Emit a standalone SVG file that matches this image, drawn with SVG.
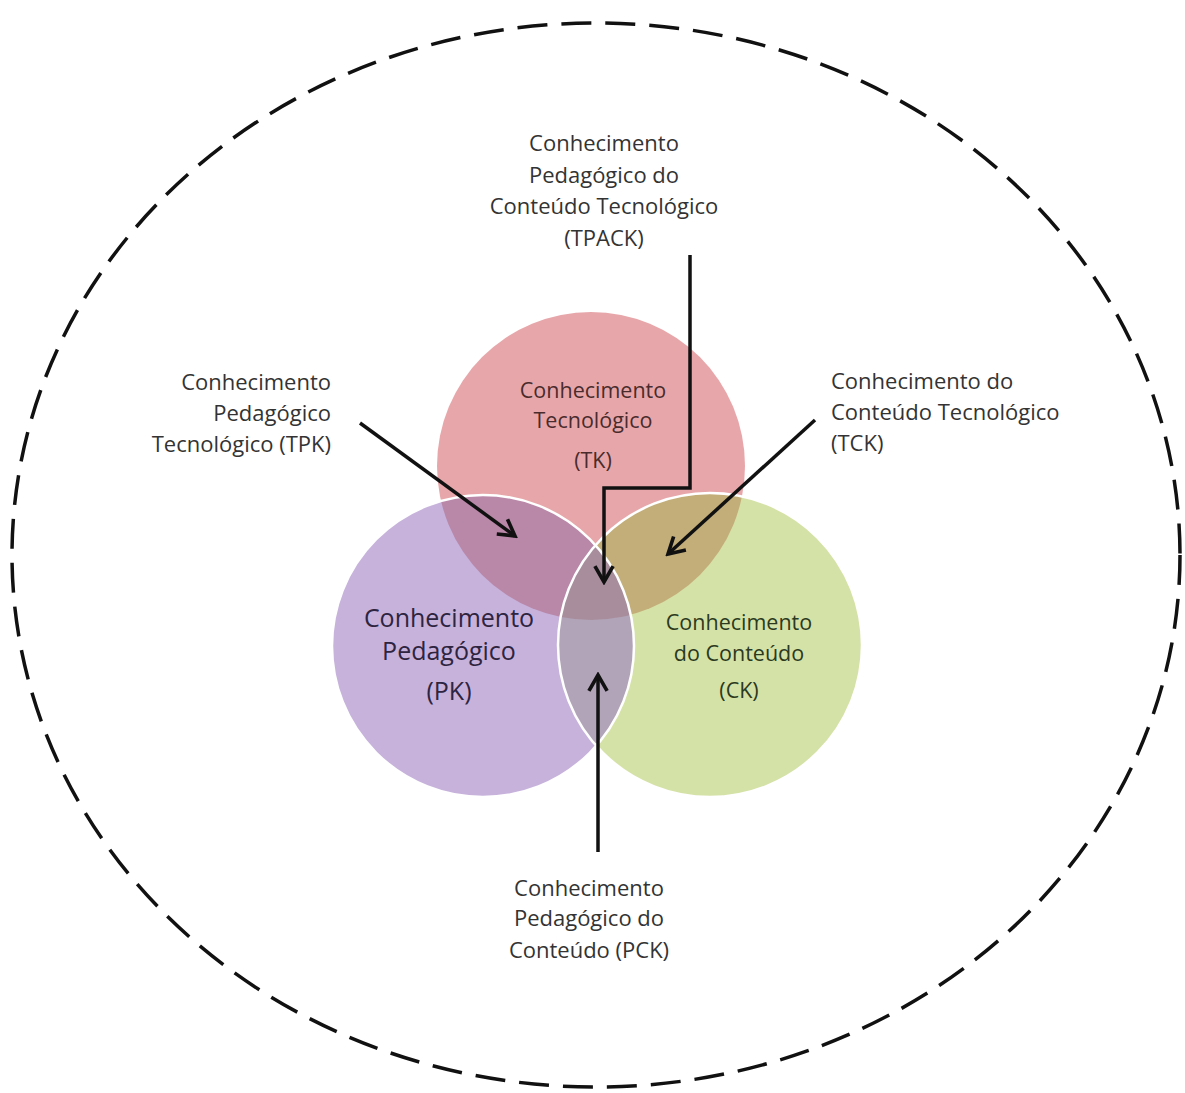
<svg xmlns="http://www.w3.org/2000/svg" width="1185" height="1093" viewBox="0 0 1185 1093">
<defs>
<style>
.lbl{font-family:"Open Sans","Liberation Sans",sans-serif;font-size:22px;fill:#333}
.big{font-family:"Open Sans","Liberation Sans",sans-serif;font-size:25px}
.mid{font-family:"Open Sans","Liberation Sans",sans-serif;font-size:21.5px}
.arrow{fill:none;stroke:#111;stroke-width:3.5;marker-end:url(#head)}
.ring{fill:none;stroke:#fff;stroke-width:2.5}
</style>
<marker id="head" viewBox="0 0 20 20" refX="17" refY="10" markerWidth="6.5" markerHeight="6.5" markerUnits="strokeWidth" orient="auto">
<polyline points="3,2 17,10 3,18" fill="none" stroke="#111" stroke-width="3.2"/>
</marker>
<clipPath id="cTK"><circle cx="591" cy="466" r="154"/></clipPath>
<clipPath id="cPK"><circle cx="483" cy="646" r="151"/></clipPath>
<clipPath id="cCK"><circle cx="710" cy="645" r="152"/></clipPath>
</defs>
<rect width="1185" height="1093" fill="#fff"/>
<ellipse id="outer" cx="596" cy="555" rx="584" ry="532" fill="none" stroke="#111" stroke-width="3.5" stroke-dasharray="30 14"/>
<g id="tk"><circle cx="591" cy="466" r="154" fill="#e7a7aa"/></g>
<g id="pk"><circle cx="483" cy="646" r="151" fill="#c7b2dc"/></g>
<g id="ck"><circle cx="710" cy="645" r="152" fill="#d5e2a7"/></g>
<g id="tpk-region" clip-path="url(#cTK)"><circle cx="483" cy="646" r="151" fill="#b988a8"/></g>
<g id="tck-region" clip-path="url(#cTK)"><circle cx="710" cy="645" r="152" fill="#c3ae7a"/></g>
<g id="pck-region" clip-path="url(#cPK)"><circle cx="710" cy="645" r="152" fill="#b1a4b8"/></g>
<g id="tpack-region" clip-path="url(#cPK)"><g clip-path="url(#cCK)"><circle cx="591" cy="466" r="154" fill="#a88e9d"/></g></g>
<g id="outlines">
<circle class="ring" cx="483" cy="646" r="151"/>
<circle class="ring" cx="710" cy="645" r="152"/>
</g>
<g id="tk-label" class="mid" fill="#4a2b2d" text-anchor="middle">
<text x="593" y="398">Conhecimento</text>
<text x="593" y="428">Tecnológico</text>
<text x="593" y="468">(TK)</text>
</g>
<g id="pk-label" class="big" fill="#2e2440" text-anchor="middle">
<text x="449" y="627">Conhecimento</text>
<text x="449" y="660">Pedagógico</text>
<text x="449" y="700">(PK)</text>
</g>
<g id="ck-label" class="mid" fill="#2b3a1f" text-anchor="middle">
<text x="739" y="630">Conhecimento</text>
<text x="739" y="661">do Conteúdo</text>
<text x="739" y="698">(CK)</text>
</g>
<g id="tpack" class="lbl" text-anchor="middle">
<text x="604" y="151">Conhecimento</text>
<text x="604" y="183">Pedagógico do</text>
<text x="604" y="214">Conteúdo Tecnológico</text>
<text x="604" y="246">(TPACK)</text>
</g>
<g id="tpk" class="lbl" text-anchor="end">
<text x="331" y="390">Conhecimento</text>
<text x="331" y="421">Pedagógico</text>
<text x="331" y="452">Tecnológico (TPK)</text>
</g>
<g id="tck" class="lbl" text-anchor="start">
<text x="831" y="389">Conhecimento do</text>
<text x="831" y="420">Conteúdo Tecnológico</text>
<text x="831" y="451">(TCK)</text>
</g>
<g id="pck" class="lbl" text-anchor="middle">
<text x="589" y="896">Conhecimento</text>
<text x="589" y="926">Pedagógico do</text>
<text x="589" y="958">Conteúdo (PCK)</text>
</g>
<g id="connectors">
<polyline class="arrow" points="690,255 690,488 604,488 604,582"/>
<line class="arrow" x1="360" y1="423" x2="515" y2="536"/>
<line class="arrow" x1="815" y1="420" x2="668" y2="554"/>
<line class="arrow" x1="598" y1="852" x2="598" y2="675"/>
</g>
</svg>
